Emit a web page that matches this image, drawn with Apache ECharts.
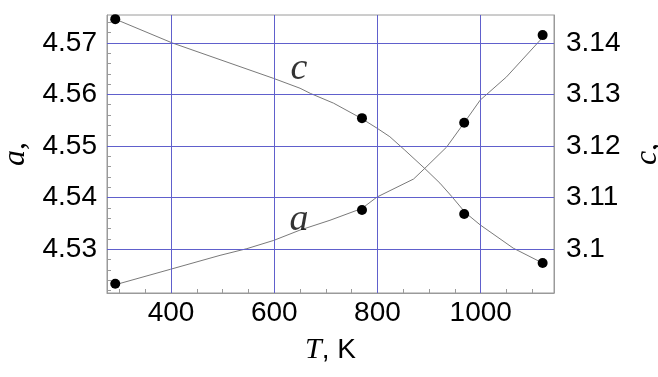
<!DOCTYPE html>
<html>
<head>
<meta charset="utf-8">
<script src="https://cdn.jsdelivr.net/npm/echarts@6/dist/echarts.min.js"></script>
<style>
html,body{margin:0;padding:0;background:#fff;}
#chart{width:658px;height:377px;}
</style>
</head>
<body>
<div id="chart"></div>
<script>
// ---- data ----
const measuredT = [292, 770, 968, 1120];
const measuredA = [4.5233, 4.5376, 4.5545, 4.5715];
const measuredC = [3.1446, 3.1254, 3.1068, 3.0973];

const curveAT = [292, 399, 495, 547, 599, 650, 708, 770, 799, 870, 892, 934, 968, 999, 1050, 1115, 1120];
const curveA  = [4.5231, 4.5261, 4.5288, 4.5301, 4.5317, 4.5337, 4.5356, 4.5379, 4.5401, 4.5436, 4.5457, 4.5498, 4.5545, 4.5589, 4.5634, 4.5705, 4.5715];

const curveCT = [292, 402, 599, 650, 670, 715, 768, 800, 824, 853, 892, 921, 944, 970, 999, 1063, 1120];
const curveC  = [3.1446, 3.1400, 3.1331, 3.1312, 3.1302, 3.1283, 3.1254, 3.1234, 3.1218, 3.1192, 3.1156, 3.1128, 3.1102, 3.1071, 3.1047, 3.1002, 3.0973];

const xRange = [276, 1142];
const aRange = [4.5215, 4.5754];
const cRange = [3.0915, 3.1454];

const xTickLabels = [400, 600, 800, 1000];
const xMinorTicks = [300, 350, 400, 450, 500, 550, 600, 650, 700, 750, 800, 850, 900, 950, 1000, 1050, 1100];
const aTickLabels = [4.53, 4.54, 4.55, 4.56, 4.57];
const aMinorTicks = [4.522, 4.524, 4.526, 4.528, 4.53, 4.532, 4.534, 4.536, 4.538, 4.54, 4.542, 4.544, 4.546, 4.548, 4.55, 4.552, 4.554, 4.556, 4.558, 4.56, 4.562, 4.564, 4.566, 4.568, 4.57, 4.572, 4.574];
const cTickLabels = [3.10, 3.11, 3.12, 3.13, 3.14];

const curveLabelA = {text: 'a', T: 648, value: 4.5356};
const curveLabelC = {text: 'c', T: 648, value: 3.1350};

// ---- chart ----
const sans = "'Liberation Sans', Arial, sans-serif";
const serif = "'Liberation Serif', 'Times New Roman', serif";
const gridColor = '#6060cc';
const frameColor = '#9a9a9a';

const zip = (xs, ys) => xs.map((x, i) => [x, ys[i]]);
const gridLines = xTickLabels.map(v => ({xAxis: v})).concat(aTickLabels.map(v => ({yAxis: v})));

const chart = echarts.init(document.getElementById('chart'), null, {renderer: 'canvas'});
chart.setOption({
  animation: false,
  backgroundColor: '#fff',
  grid: {left: 107, right: 104, top: 15, bottom: 84, show: true, borderColor: frameColor, borderWidth: 1,
         containLabel: false, outerBoundsMode: 'none'},
  xAxis: {
    type: 'value', min: xRange[0], max: xRange[1], position: 'bottom',
    axisLine: {show: true, lineStyle: {color: frameColor, width: 1}},
    axisTick: {show: true, inside: true, length: 4, lineStyle: {color: frameColor}, customValues: xMinorTicks},
    axisLabel: {customValues: xTickLabels, formatter: v => String(v), color: '#000', fontFamily: sans, fontSize: 28, margin: 6},
    splitLine: {show: false},
    name: '{i|T}{n|, K}', nameLocation: 'middle', nameGap: 42,
    nameTextStyle: {rich: {i: {fontFamily: serif, fontStyle: 'italic', fontSize: 30, color: '#000'}, n: {fontFamily: sans, fontSize: 28, color: '#000'}}}
  },
  yAxis: [
    {
      type: 'value', min: aRange[0], max: aRange[1], position: 'left',
      axisLine: {show: true, lineStyle: {color: frameColor, width: 1}},
      axisTick: {show: true, inside: true, length: 4, lineStyle: {color: frameColor}, customValues: aMinorTicks},
      axisLabel: {customValues: aTickLabels, color: '#000', fontFamily: sans, fontSize: 28, margin: 10},
      splitLine: {show: false},
      name: '{i|a}{n|,}', nameLocation: 'middle', nameGap: 73, nameRotate: 90,
      nameTextStyle: {rich: {i: {fontFamily: serif, fontStyle: 'italic', fontSize: 32, color: '#000'}, n: {fontFamily: serif, fontSize: 32, color: '#000'}}}
    },
    {
      type: 'value', min: cRange[0], max: cRange[1], position: 'right',
      axisLine: {show: true, lineStyle: {color: frameColor, width: 1}},
      axisTick: {show: false, customValues: cTickLabels},
      axisLabel: {customValues: cTickLabels, color: '#000', fontFamily: sans, fontSize: 28, margin: 12},
      splitLine: {show: false},
      name: '{i|c}{n|,}', nameLocation: 'middle', nameGap: 70, nameRotate: 90,
      nameTextStyle: {rich: {i: {fontFamily: serif, fontStyle: 'italic', fontSize: 32, color: '#000'}, n: {fontFamily: serif, fontSize: 32, color: '#000'}}}
    }
  ],
  series: [
    {
      type: 'line', xAxisIndex: 0, yAxisIndex: 0, data: [], z: 1, silent: true,
      markLine: {
        silent: true, symbol: 'none', animation: false,
        label: {show: false},
        lineStyle: {color: gridColor, width: 1, type: 'solid', opacity: 1},
        emphasis: {disabled: true},
        data: gridLines
      }
    },
    {
      type: 'line', xAxisIndex: 0, yAxisIndex: 0, data: zip(curveAT, curveA),
      showSymbol: false, smooth: false, lineStyle: {color: '#7a7a7a', width: 1}, z: 3, silent: true
    },
    {
      type: 'line', xAxisIndex: 0, yAxisIndex: 1, data: zip(curveCT, curveC),
      showSymbol: false, smooth: false, lineStyle: {color: '#7a7a7a', width: 1}, z: 3, silent: true
    },
    {
      type: 'scatter', xAxisIndex: 0, yAxisIndex: 0, data: zip(measuredT, measuredA),
      symbol: 'circle', symbolSize: 10, itemStyle: {color: '#000', opacity: 1}, z: 5
    },
    {
      type: 'scatter', xAxisIndex: 0, yAxisIndex: 1, data: zip(measuredT, measuredC),
      symbol: 'circle', symbolSize: 10, itemStyle: {color: '#000', opacity: 1}, z: 5
    },
    {
      type: 'scatter', xAxisIndex: 0, yAxisIndex: 0, data: [[curveLabelA.T, curveLabelA.value]],
      symbolSize: 0, silent: true, z: 6,
      label: {show: true, position: 'inside', formatter: curveLabelA.text, fontFamily: serif, fontStyle: 'italic', fontSize: 38, color: '#000'}
    },
    {
      type: 'scatter', xAxisIndex: 0, yAxisIndex: 1, data: [[curveLabelC.T, curveLabelC.value]],
      symbolSize: 0, silent: true, z: 6,
      label: {show: true, position: 'inside', formatter: curveLabelC.text, fontFamily: serif, fontStyle: 'italic', fontSize: 38, color: '#000'}
    }
  ]
});
</script>
</body>
</html>
